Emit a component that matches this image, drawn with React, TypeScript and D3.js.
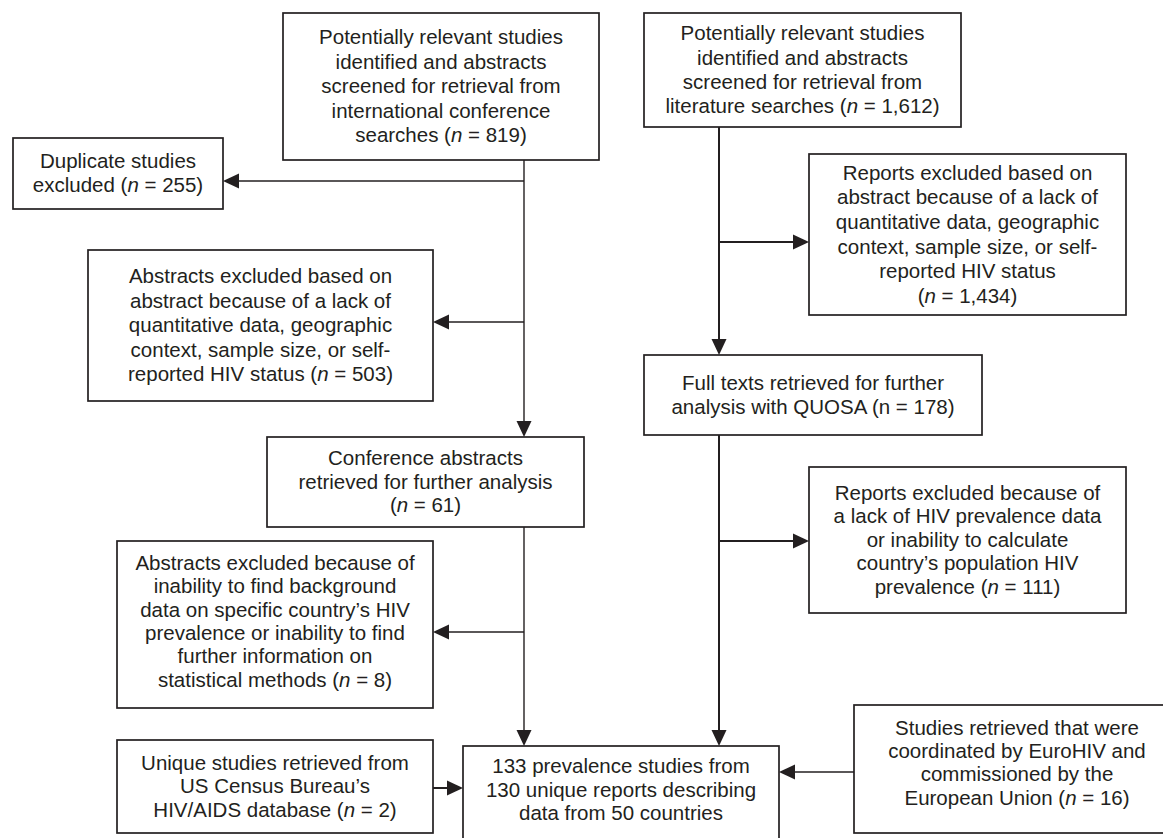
import React, { useEffect, useRef } from "react";
import * as d3 from "d3";

// ---- Data: box texts (with *n* marking italic n) ----
const boxIds = ["conf", "lit", "dup", "abs1", "rep1", "full", "confRet", "abs2", "rep2", "unique", "final", "euro"];

const confLines = ["Potentially relevant studies", "identified and abstracts", "screened for retrieval from", "international conference", "searches (*n* = 819)"];
const litLines = ["Potentially relevant studies", "identified and abstracts", "screened for retrieval from", "literature searches (*n* = 1,612)"];
const dupLines = ["Duplicate studies", "excluded (*n* = 255)"];
const abs1Lines = ["Abstracts excluded based on", "abstract because of a lack of", "quantitative data, geographic", "context, sample size, or self-", "reported HIV status (*n* = 503)"];
const rep1Lines = ["Reports excluded based on", "abstract because of a lack of", "quantitative data, geographic", "context, sample size, or self-", "reported HIV status", "(*n* = 1,434)"];
const fullLines = ["Full texts retrieved for further", "analysis with QUOSA (n = 178)"];
const confRetLines = ["Conference abstracts", "retrieved for further analysis", "(*n* = 61)"];
const abs2Lines = ["Abstracts excluded because of", "inability to find background", "data on specific country\u2019s HIV", "prevalence or inability to find", "further information on", "statistical methods (*n* = 8)"];
const rep2Lines = ["Reports excluded because of", "a lack of HIV prevalence data", "or inability to calculate", "country\u2019s population HIV", "prevalence (*n* = 111)"];
const uniqueLines = ["Unique studies retrieved from", "US Census Bureau\u2019s", "HIV/AIDS database (*n* = 2)"];
const finalLines = ["133 prevalence studies from", "130 unique reports describing", "data from 50 countries"];
const euroLines = ["Studies retrieved that were", "coordinated by EuroHIV and", "commissioned by the", "European Union (*n* = 16)"];

// ---- Layout (pixel geometry of the flowchart) ----
type Box = { x0: number; y0: number; x1: number; y1: number; lh: number; dy?: number; lines: string[] };
const layout: Record<string, Box> = {
  conf: { x0: 283, y0: 13, x1: 599, y1: 160, lh: 24.6, lines: confLines },
  lit: { x0: 644, y0: 13, x1: 961, y1: 127, lh: 24.4, lines: litLines },
  dup: { x0: 13, y0: 138, x1: 223, y1: 209, lh: 23.7, lines: dupLines },
  abs1: { x0: 88, y0: 250, x1: 433, y1: 401, lh: 24.5, lines: abs1Lines },
  rep1: { x0: 809, y0: 154, x1: 1126, y1: 315, lh: 24.7, lines: rep1Lines },
  full: { x0: 644, y0: 355, x1: 982, y1: 435, lh: 24.3, lines: fullLines },
  confRet: { x0: 267, y0: 437, x1: 584, y1: 527, lh: 23.4, lines: confRetLines },
  abs2: { x0: 117, y0: 541, x1: 433, y1: 708, lh: 23.4, dy: -3, lines: abs2Lines },
  rep2: { x0: 809, y0: 467, x1: 1126, y1: 613, lh: 23.4, lines: rep2Lines },
  unique: { x0: 117, y0: 740, x1: 433, y1: 833, lh: 23.3, lines: uniqueLines },
  final: { x0: 463, y0: 746, x1: 779, y1: 840, lh: 23.3, dy: -3, lines: finalLines },
  euro: { x0: 854, y0: 705, x1: 1180, y1: 833, lh: 23.3, dy: -6, lines: euroLines },
};

// connectors: [x1,y1,x2,y2, arrow?]
type Conn = { pts: [number, number][]; arrow: boolean; w: number };
const connectors: Conn[] = [
  { pts: [[524, 160], [524, 437]], arrow: true, w: 1.4 },
  { pts: [[524, 181], [223, 181]], arrow: true, w: 1.4 },
  { pts: [[524, 322], [433, 322]], arrow: true, w: 1.4 },
  { pts: [[524, 527], [524, 746]], arrow: true, w: 1.4 },
  { pts: [[524, 632], [433, 632]], arrow: true, w: 1.4 },
  { pts: [[719, 127], [719, 355]], arrow: true, w: 2 },
  { pts: [[719, 242], [809, 242]], arrow: true, w: 2 },
  { pts: [[719, 435], [719, 746]], arrow: true, w: 2 },
  { pts: [[719, 541], [809, 541]], arrow: true, w: 2 },
  { pts: [[433, 788], [463, 788]], arrow: true, w: 2 },
  { pts: [[854, 772], [779, 772]], arrow: true, w: 1.6 },
];

const INK = "#231f20";
const FS = 20.5;

export default function App() {
  const ref = useRef<SVGSVGElement>(null);
  useEffect(() => {
    const svg = d3.select(ref.current!);
    svg.selectAll("*").remove();
    const g = svg.append("g");

    // boxes
    boxIds.forEach((id) => {
      const b = layout[id];
      g.append("rect")
        .attr("x", b.x0)
        .attr("y", b.y0)
        .attr("width", b.x1 - b.x0)
        .attr("height", b.y1 - b.y0)
        .attr("fill", "#fff")
        .attr("stroke", INK)
        .attr("stroke-width", 1.7);
      const cx = (b.x0 + b.x1) / 2;
      const cy = (b.y0 + b.y1) / 2 + (b.dy || 0);
      const n = b.lines.length;
      b.lines.forEach((line, i) => {
        const lineC = cy + (i - (n - 1) / 2) * b.lh;
        const t = g
          .append("text")
          .attr("x", cx)
          .attr("y", lineC + FS * 0.33)
          .attr("text-anchor", "middle")
          .attr("font-family", "'Liberation Sans', Arial, Helvetica, sans-serif")
          .attr("font-size", FS)
          .attr("fill", INK);
        const parts = line.split("*");
        parts.forEach((p, k) => {
          if (!p) return;
          t.append("tspan")
            .attr("font-style", k % 2 === 1 ? "italic" : "normal")
            .text(p);
        });
      });
    });

    // connectors
    const line = d3.line<[number, number]>();
    const AL = 16;
    const AW = 7.5;
    connectors.forEach((c) => {
      const [p0, p1] = [c.pts[0], c.pts[c.pts.length - 1]];
      const dx = p1[0] - p0[0];
      const dyv = p1[1] - p0[1];
      const len = Math.hypot(dx, dyv);
      const ux = dx / len;
      const uy = dyv / len;
      const end: [number, number] = c.arrow ? [p1[0] - ux * (AL - 1), p1[1] - uy * (AL - 1)] : p1;
      g.append("path")
        .attr("d", line([p0, end]))
        .attr("fill", "none")
        .attr("stroke", INK)
        .attr("stroke-width", c.w);
      if (c.arrow) {
        const bx = p1[0] - ux * AL;
        const by = p1[1] - uy * AL;
        const tri: [number, number][] = [
          [p1[0], p1[1]],
          [bx - uy * AW, by + ux * AW],
          [bx + uy * AW, by - ux * AW],
        ];
        g.append("path")
          .attr("d", line(tri) + "Z")
          .attr("fill", INK)
          .attr("stroke", "none");
      }
    });
  }, []);

  return (
    <svg
      ref={ref}
      width={1163}
      height={838}
      style={{ position: "absolute", left: 0, top: 0, background: "#fff" }}
    />
  );
}
